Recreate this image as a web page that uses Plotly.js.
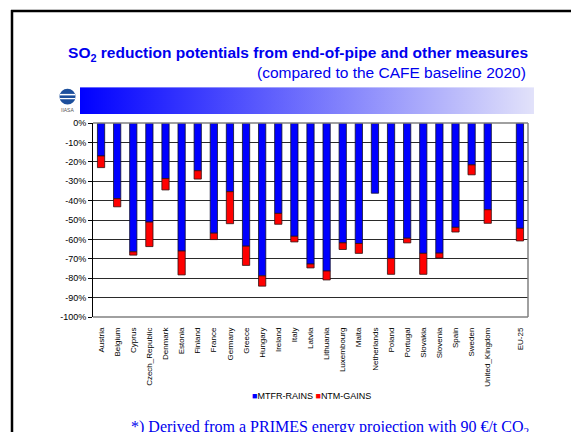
<!DOCTYPE html>
<html>
<head>
<meta charset="utf-8">
<script src="https://cdn.plot.ly/plotly-3.0.1.min.js"></script>
<style>html,body{margin:0;padding:0;background:#fff;}#chart{width:571px;height:432px;}</style>
</head>
<body>
<div id="chart"></div>
<script>
// ---- data (percent reduction vs CAFE baseline 2020) ----
var countries = ['Austria','Belgium','Cyprus','Czech_Republic','Denmark','Estonia','Finland','France','Germany','Greece','Hungary','Ireland','Italy','Latvia','Lithuania','Luxembourg','Malta','Netherlands','Poland','Portugal','Slovakia','Slovenia','Spain','Sweden','United_Kingdom',' ','EU-25'];
var mtfrRains = [-17.0,-39.0,-66.4,-51.1,-28.6,-66.0,-24.6,-56.8,-35.4,-63.5,-78.8,-46.6,-58.4,-72.7,-76.3,-61.8,-62.1,-36.2,-69.8,-59.4,-67.2,-67.1,-53.8,-21.6,-44.7,null,-54.3];
var ntmGains  = [-6.0,-4.2,-1.7,-12.6,-5.9,-12.3,-4.3,-3.3,-16.5,-9.9,-5.3,-5.6,-2.9,-2.0,-4.6,-3.4,-5.1,0,-8.2,-2.4,-10.8,-2.5,-2.4,-5.1,-7.0,null,-6.5];
var seriesNames = ['MTFR-RAINS','NTM-GAINS'];
var yTickVals = [0,-10,-20,-30,-40,-50,-60,-70,-80,-90,-100];
var yTickText = ['0%','-10%','-20%','-30%','-40%','-50%','-60%','-70%','-80%','-90%','-100%'];

// pixel -> paper helpers (plot area 93..528 x, 122.5..317.5 y)
var L=93, R=528, T=122.5, B=317.5;
function px(x){return (x-L)/(R-L);}
function py(y){return (B-y)/(B-T);}

var gradSvg = 'data:image/svg+xml;utf8,' + encodeURIComponent(
 '<svg xmlns="http://www.w3.org/2000/svg" width="454" height="27" viewBox="0 0 454 27" preserveAspectRatio="none">' +
 '<defs><linearGradient id="g" x1="0" y1="0" x2="1" y2="0">' +
 '<stop offset="0" stop-color="#0000ff"/><stop offset="1" stop-color="#e2e2fa"/></linearGradient></defs>' +
 '<rect width="454" height="27" fill="url(#g)"/></svg>');

var colors = ['#0000ff','#ff0000'];
var traces = [
 {type:'bar', name:seriesNames[0], x:countries, y:mtfrRains,
  marker:{color:colors[0], line:{color:'#101030', width:0.8}}},
 {type:'bar', name:seriesNames[1], x:countries, y:ntmGains,
  marker:{color:colors[1], line:{color:'#301010', width:0.8}}}
];

var legendText = '<span style="color:' + colors[0] + '">■</span>' + seriesNames[0] +
  ' <span style="color:' + colors[1] + '">■</span>' + seriesNames[1];

var layout = {
 width:571, height:432,
 margin:{l:L, r:571-R, t:T, b:432-B},
 paper_bgcolor:'#fff', plot_bgcolor:'#fff',
 font:{family:'Liberation Sans, Arial, sans-serif', color:'#000'},
 barmode:'relative', bargap:0.55,
 showlegend:false,
 title:{text:'<b>SO<sub>2</sub> reduction potentials from end-of-pipe and other measures</b>',
   font:{size:15.5, color:'#0000ee'}, xref:'paper', x:1, xanchor:'right',
   yref:'container', y:1-53/432, yanchor:'middle'},
 xaxis:{type:'category', categoryorder:'array', categoryarray:countries,
   tickangle:-90, tickfont:{size:8}, ticks:'', showline:false, showgrid:false,
   ticklabelstandoff:8, fixedrange:true},
 yaxis:{range:[-100,0], tickvals:yTickVals, ticktext:yTickText, tickfont:{size:9},
   ticks:'outside', ticklen:4, tickcolor:'#000', showline:true, linecolor:'#000', linewidth:1,
   showgrid:true, gridcolor:'#2a2a2a', gridwidth:1, zeroline:false, fixedrange:true},
 annotations:[
  {text:'(compared to the CAFE baseline 2020)', xref:'paper', yref:'paper', x:1, xanchor:'right',
   y:py(72), yanchor:'middle', showarrow:false, font:{size:15.5, color:'#0000ee'}},
  {text:legendText, xref:'paper', yref:'paper', x:px(311), xanchor:'center', y:py(397), yanchor:'middle',
   showarrow:false, font:{size:9, color:'#000'}},
  {text:'*) Derived from a PRIMES energy projection with 90 €/t CO<sub>2</sub>', xref:'paper', yref:'paper',
   x:px(129), xanchor:'left', y:py(417), yanchor:'top', showarrow:false,
   font:{family:'Liberation Serif, Times New Roman, serif', size:16, color:'#0000ee'}},
  {text:'IIASA', xref:'paper', yref:'paper', x:px(67.5), xanchor:'center', y:py(109), yanchor:'middle',
   showarrow:false, font:{size:5, color:'#555'}}
 ],
 images:[
  {source:gradSvg, xref:'paper', yref:'paper', x:px(80), y:py(86.5), sizex:(534-80)/(R-L), sizey:27/(B-T),
   xanchor:'left', yanchor:'top', sizing:'stretch', layer:'below'}
 ],
 shapes:[
  // slide frame
  {type:'line', xref:'paper', yref:'paper', x0:px(12), x1:px(12), y0:py(9), y1:py(440), line:{color:'#000', width:2.5}},
  {type:'line', xref:'paper', yref:'paper', x0:px(11), x1:px(580), y0:py(10), y1:py(10), line:{color:'#000', width:2.5}},
  // plot frame (gray right/bottom/top)
  {type:'line', xref:'paper', yref:'paper', x0:0, x1:1, y0:1, y1:1, line:{color:'#808080', width:1.5}},
  {type:'line', xref:'paper', yref:'paper', x0:1, x1:1, y0:0, y1:1, line:{color:'#808080', width:1.5}},
  {type:'line', xref:'paper', yref:'paper', x0:0, x1:1, y0:0, y1:0, line:{color:'#808080', width:1.5}},
  // IIASA logo
  {type:'circle', xref:'paper', yref:'paper', x0:px(59.5), x1:px(75.5), y0:py(88), y1:py(104), fillcolor:'#1c4f9c', line:{width:0}},
  {type:'line', xref:'paper', yref:'paper', x0:px(60), x1:px(75), y0:py(94), y1:py(94), line:{color:'#fff', width:1.5}},
  {type:'line', xref:'paper', yref:'paper', x0:px(60), x1:px(75), y0:py(98), y1:py(98), line:{color:'#fff', width:1.2}}
 ]
};

Plotly.newPlot('chart', traces, layout, {staticPlot:true, displayModeBar:false});
</script>
</body>
</html>
